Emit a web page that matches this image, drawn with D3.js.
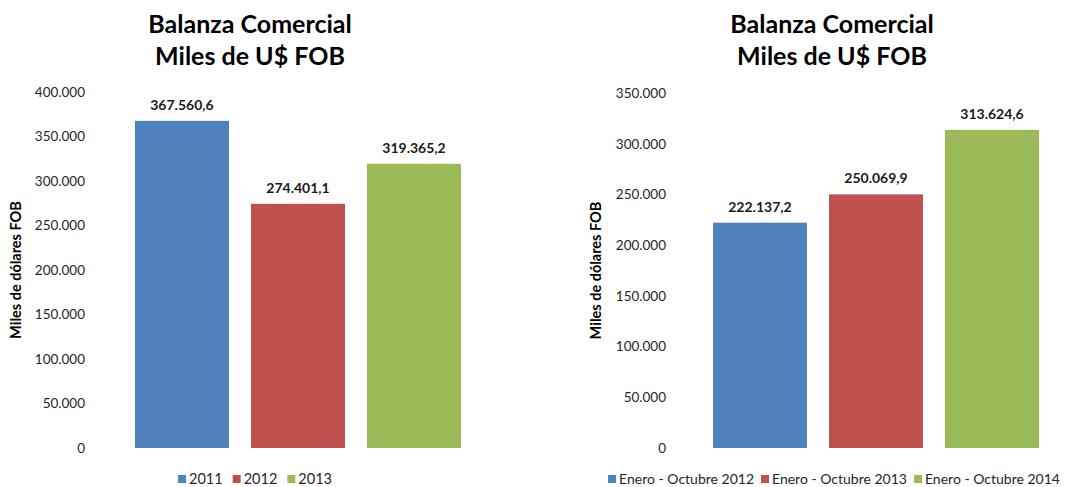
<!DOCTYPE html>
<html>
<head>
<meta charset="utf-8">
<script src="https://cdn.jsdelivr.net/npm/d3@7"></script>
<style>
  body { margin: 0; background: #fff; }
  svg text { font-family: Lato, "Open Sans", sans-serif; }
</style>
</head>
<body>
<svg id="chart" width="1066" height="487"></svg>
<script>
// left panel
var left_categories = ["2011", "2012", "2013"];
var left_values = [367560.6, 274401.1, 319365.2];
var left_ticks = [0, 50000, 100000, 150000, 200000, 250000, 300000, 350000, 400000];

// right panel
var right_categories = ["Enero - Octubre 2012", "Enero - Octubre 2013", "Enero - Octubre 2014"];
var right_values = [222137.2, 250069.9, 313624.6];
var right_ticks = [0, 50000, 100000, 150000, 200000, 250000, 300000, 350000];

var title_lines = ["Balanza Comercial", "Miles de U$ FOB"];
var y_title = "Miles de dólares FOB";
var colors = ["#4F81BD", "#C0504D", "#9BBB59"];

var svg = d3.select("#chart");

// spanish number format: 367.560,6 / 400.000
var es = d3.formatLocale({ decimal: ",", thousands: ".", grouping: [3], currency: ["", ""] });
var fmt_tick = es.format(",.0f");
var fmt_val = es.format(",.1f");

function draw_panel(opt, cats, vals, ticks) {
    var g = svg.append("g");
    var y = d3.scaleLinear()
        .domain([0, d3.max(ticks)])
        .range([opt.y0, opt.y1]);
    var x = d3.scaleBand()
        .domain(cats)
        .range([opt.x0, opt.x1])
        .paddingInner(0.19)
        .paddingOuter(0);

    // title
    g.selectAll(".title").data(title_lines)
        .enter().append("text")
        .attr("x", opt.cx)
        .attr("y", function (d, i) { return 33 + i * 32; })
        .attr("text-anchor", "middle")
        .attr("font-size", 25)
        .attr("font-weight", "bold")
        .attr("fill", "#000")
        .text(function (d) { return d; });

    // y axis labels only, no line
    var axis = d3.axisLeft(y).tickValues(ticks).tickFormat(fmt_tick).tickSize(0).tickPadding(0);
    var ag = g.append("g")
        .attr("transform", "translate(" + opt.tick_x + ",0)")
        .call(axis);
    ag.select(".domain").remove();
    ag.selectAll("text")
        .attr("font-size", 13.5)
        .attr("fill", "#262626")
        .style("font-family", "Lato, sans-serif");

    // y title
    g.append("text")
        .attr("transform", "translate(" + opt.ytitle_x + "," + ((opt.y0 + opt.y1) / 2) + ") rotate(-90)")
        .attr("text-anchor", "middle")
        .attr("font-size", 14.5)
        .attr("font-weight", "bold")
        .attr("fill", "#000")
        .text(y_title);

    // bars
    g.selectAll(".bar").data(vals)
        .enter().append("rect")
        .attr("x", function (d, i) { return x(cats[i]); })
        .attr("y", function (d) { return y(d); })
        .attr("width", x.bandwidth())
        .attr("height", function (d) { return opt.y0 - y(d); })
        .attr("fill", function (d, i) { return colors[i]; });

    // value labels
    g.selectAll(".val").data(vals)
        .enter().append("text")
        .attr("x", function (d, i) { return x(cats[i]) + x.bandwidth() / 2; })
        .attr("y", function (d) { return y(d) - 11; })
        .attr("text-anchor", "middle")
        .attr("font-size", 14)
        .attr("font-weight", "bold")
        .attr("fill", "#1a1a1a")
        .text(function (d) { return fmt_val(d); });

    // legend, centered
    var lg = g.append("g");
    var items = lg.selectAll(".item").data(cats)
        .enter().append("g");
    items.append("rect")
        .attr("width", 8)
        .attr("height", 8)
        .attr("y", -4)
        .attr("fill", function (d, i) { return colors[i]; });
    items.append("text")
        .attr("x", 11)
        .attr("y", 5)
        .attr("font-size", opt.legend_fs)
        .attr("fill", "#262626")
        .text(function (d) { return d; });
    var pos = 0;
    items.each(function () {
        var w = d3.select(this).select("text").node().getComputedTextLength();
        d3.select(this).attr("transform", "translate(" + pos + ",0)");
        pos += 11 + w + opt.legend_gap;
    });
    var total = pos - opt.legend_gap;
    lg.attr("transform", "translate(" + (opt.legend_cx - total / 2) + "," + opt.legend_y + ")");
}

draw_panel({ cx: 250, x0: 135, x1: 461, y0: 448, y1: 92, tick_x: 85, ytitle_x: 21,
             legend_cx: 255, legend_y: 479, legend_gap: 10, legend_fs: 14.5 },
    left_categories, left_values, left_ticks);

draw_panel({ cx: 832, x0: 713, x1: 1039, y0: 448, y1: 93, tick_x: 666, ytitle_x: 601,
             legend_cx: 834, legend_y: 479, legend_gap: 7, legend_fs: 14 },
    right_categories, right_values, right_ticks);
</script>
</body>
</html>
